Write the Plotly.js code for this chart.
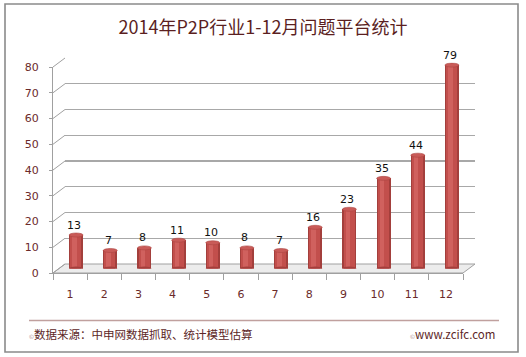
<!DOCTYPE html>
<html>
<head>
<meta charset="utf-8">
<script src="https://cdn.plot.ly/plotly-3.0.1.min.js"></script>
<style>
html,body{margin:0;padding:0;background:#ffffff;}
#chart{width:526px;height:357px;}
</style>
</head>
<body>
<div id="chart"></div>
<script>
// ---- data ----
const months = ['1','2','3','4','5','6','7','8','9','10','11','12'];
const problemPlatforms = [13, 7, 8, 11, 10, 8, 7, 16, 23, 35, 44, 79];
const yTicks = [0, 10, 20, 30, 40, 50, 60, 70, 80];
const chartTitle = '2014年P2P行业1-12月问题平台统计';
const sourceNote = '数据来源：中申网数据抓取、统计模型估算';
const siteNote = 'www.zcifc.com';

// ---- geometry (pixels) ----
const W = 526, H = 357;
const px = x => x / W;
const py = y => 1 - y / H;
const FX0 = 53, FX1 = 463, FY0 = 273, FY1 = 67;   // front plane
const DX = 12, DY = -9;                          // depth offset (back plane)
const YMAX = 80;
const yFront = v => FY0 - v * (FY0 - FY1) / YMAX;
const yBack = v => yFront(v) + DY;

const tickColor = '#6b2a2a';
const lineGray = '#a0a0a0';
const numFont = 'DejaVu Sans';
const cjkFont = 'Noto Sans CJK SC';

const idx = months.map((m, i) => i);

// ---- traces ----
const barOuter = {
  type: 'bar', x: months, y: problemPlatforms, xaxis: 'x3', yaxis: 'y3',
  width: 0.41, marker: {color: '#a33f3c', line: {width: 0}}, hoverinfo: 'skip'
};
const barMid = {
  type: 'bar', x: months, y: problemPlatforms, xaxis: 'x3', yaxis: 'y3',
  width: 0.32, offset: -0.17, marker: {color: '#c24f4c', line: {width: 0}}, hoverinfo: 'skip'
};
const barHi = {
  type: 'bar', x: months, y: problemPlatforms, xaxis: 'x3', yaxis: 'y3',
  width: 0.13, offset: -0.11, marker: {color: '#d0615e', line: {width: 0}}, hoverinfo: 'skip'
};
const frontDummy = {
  type: 'scatter', mode: 'markers', x: months, y: problemPlatforms.map(() => null),
  xaxis: 'x', yaxis: 'y', hoverinfo: 'skip', showlegend: false
};
const backDummy = {
  type: 'scatter', mode: 'markers', x: months, y: problemPlatforms.map(() => null),
  xaxis: 'x2', yaxis: 'y2', hoverinfo: 'skip', showlegend: false
};

// ---- shapes ----
const shapes = [];
// outer frame
shapes.push({type: 'rect', xref: 'paper', yref: 'paper', x0: px(5), x1: px(518), y0: py(352), y1: py(4),
  line: {color: '#8a8a8a', width: 1.6}, layer: 'below'});
// floor
shapes.push({type: 'path', xref: 'paper', yref: 'paper', layer: 'below',
  path: `M${px(FX0)},${py(FY0)} L${px(FX1)},${py(FY0)} L${px(FX1 + DX)},${py(FY0 + DY)} L${px(FX0 + DX)},${py(FY0 + DY)} Z`,
  fillcolor: '#ececec', line: {color: lineGray, width: 1}});
// left wall connectors
yTicks.forEach(v => {
  shapes.push({type: 'line', xref: 'paper', yref: 'paper', layer: 'below',
    x0: px(FX0), y0: py(yFront(v)), x1: px(FX0 + DX), y1: py(yBack(v)),
    line: {color: lineGray, width: 1}});
});
// cylinder bottoms & caps
idx.forEach(i => {
  shapes.push({type: 'circle', xref: 'x3', yref: 'y3', xsizemode: 'pixel', ysizemode: 'pixel',
    xanchor: i, yanchor: 0, x0: -7, x1: 7, y0: -2, y1: 2,
    fillcolor: '#a33f3c', line: {width: 0}, layer: 'above'});
  shapes.push({type: 'circle', xref: 'x3', yref: 'y3', xsizemode: 'pixel', ysizemode: 'pixel',
    xanchor: i, yanchor: problemPlatforms[i], x0: -7, x1: 7, y0: -2, y1: 2,
    fillcolor: '#c95b58', line: {color: '#ad4542', width: 0.6}, layer: 'above'});
});
// footer separator
shapes.push({type: 'line', xref: 'paper', yref: 'paper', x0: px(29), x1: px(499), y0: py(320.5), y1: py(320.5),
  line: {color: '#c0a09e', width: 1.5}});

// ---- annotations ----
const annotations = idx.map(i => ({
  xref: 'x3', yref: 'y3', x: i, y: problemPlatforms[i], yshift: 10, xshift: -2,
  text: String(problemPlatforms[i]), showarrow: false, yanchor: 'middle',
  font: {family: numFont, size: 11, color: '#111111'}
}));
const copyMark = '<span style="font-size:6px;color:#b09090">©</span>';
annotations.push({xref: 'paper', yref: 'paper', x: px(27), y: py(334), xanchor: 'left', yanchor: 'middle',
  text: copyMark + sourceNote, showarrow: false, font: {family: cjkFont, size: 11.5, color: '#5c2626'}});
annotations.push({xref: 'paper', yref: 'paper', x: px(497), y: py(334), xanchor: 'right', yanchor: 'middle',
  text: copyMark + siteNote, showarrow: false, font: {family: cjkFont, size: 11.5, color: '#5c2626'}});

// ---- layout ----
const layout = {
  width: W, height: H,
  margin: {l: 0, r: 0, t: 0, b: 0, pad: 0},
  paper_bgcolor: '#ffffff', plot_bgcolor: 'rgba(0,0,0,0)',
  showlegend: false, barmode: 'overlay', bargap: 0,
  title: {text: chartTitle, xref: 'paper', yref: 'paper', x: px(263), xanchor: 'center',
    y: py(28), yanchor: 'middle', font: {family: cjkFont, size: 18, color: '#5b1f1f'}},
  // front plane (labels, axis lines)
  xaxis: {domain: [px(FX0), px(FX1)], anchor: 'y', type: 'category', range: [-0.5, 11.5],
    tickson: 'boundaries', ticks: 'outside', ticklen: 6, tickcolor: lineGray, tickwidth: 1,
    showline: true, linecolor: lineGray, linewidth: 1, showgrid: false, zeroline: false,
    ticklabelstandoff: 11,
    tickfont: {family: numFont, size: 11, color: tickColor}, fixedrange: true},
  yaxis: {domain: [py(FY0), py(FY1)], anchor: 'x', range: [0, YMAX], tickvals: yTicks,
    ticks: 'outside', ticklen: 3, tickcolor: lineGray, showline: true, linecolor: lineGray, linewidth: 1,
    showgrid: false, zeroline: false, ticklabelstandoff: 8,
    tickfont: {family: numFont, size: 11, color: tickColor}, fixedrange: true},
  // back plane (gridlines)
  xaxis2: {domain: [px(FX0 + DX), px(FX1 + DX)], anchor: 'y2', type: 'category', range: [-0.5, 11.5],
    showgrid: false, showline: false, zeroline: false, showticklabels: false, ticks: '', fixedrange: true},
  yaxis2: {domain: [py(FY0 + DY), py(FY1 + DY)], anchor: 'x2', range: [0, YMAX], tickvals: yTicks.slice(1),
    showgrid: true, gridcolor: '#a8a8a8', gridwidth: 1.2, showline: false, zeroline: false,
    showticklabels: false, ticks: '', fixedrange: true},
  // middle plane (bars)
  xaxis3: {domain: [px(FX0 + DX / 2), px(FX1 + DX / 2)], anchor: 'y3', type: 'category', range: [-0.5, 11.5],
    visible: false, fixedrange: true},
  yaxis3: {domain: [py(FY0 + DY / 2), py(FY1 + DY / 2)], anchor: 'x3', range: [0, YMAX],
    visible: false, fixedrange: true},
  shapes: shapes,
  annotations: annotations
};

Plotly.newPlot('chart', [backDummy, frontDummy, barOuter, barMid, barHi], layout,
  {displayModeBar: false, staticPlot: true});
</script>
</body>
</html>
